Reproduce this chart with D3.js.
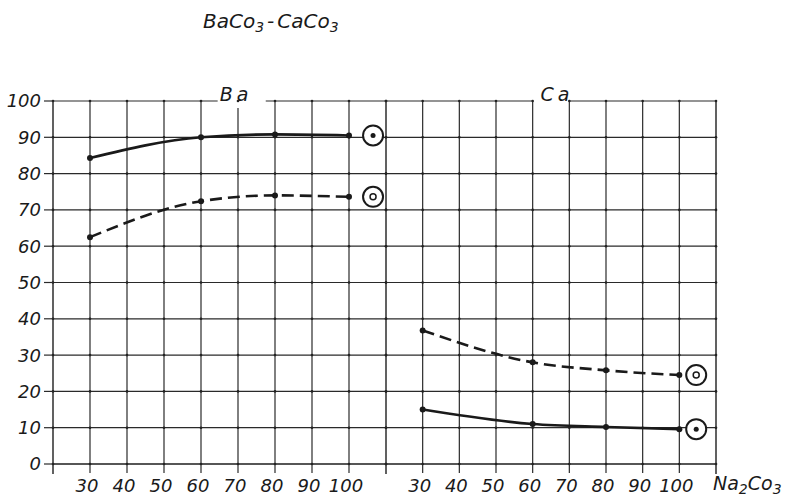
<!DOCTYPE html>
<html>
<head>
<meta charset="utf-8">
<script src="https://cdn.jsdelivr.net/npm/d3@7"></script>
<style>
    body { margin: 0; background: #fff; }
    svg { display: block; }
    text { font-family: "DejaVu Sans", sans-serif; font-style: italic; fill: #1a1a1a; }
    .grid { stroke: #2a2a2a; stroke-width: 1.2; fill: none; }
    .frame { stroke: #1e1e1e; stroke-width: 1.4; fill: none; }
    .curve { stroke: #1a1a1a; stroke-width: 2.6; fill: none; }
    .dashed { stroke-dasharray: 12 6; }
    .tick_label { font-size: 18px; }
</style>
</head>
<body>
<svg id="graph" width="786" height="500"></svg>
<script>
// values
let xTicks = [30, 40, 50, 60, 70, 80, 90, 100];
let yTicks = [0, 10, 20, 30, 40, 50, 60, 70, 80, 90, 100];
let naValues = [30, 60, 80, 100];
let baSolid = [84.3, 90.0, 90.8, 90.5];
let baDashed = [62.5, 72.4, 74.0, 73.6];
let caDashed = [36.8, 28.0, 25.8, 24.5];
let caSolid = [15.0, 11.0, 10.2, 9.6];

let svg = d3.select("#graph");

let yScale = d3.scaleLinear()
    .domain([0, 100])
    .range([464, 101]);

let panels = [
    {name: "Ba", range: [53, 386], gap: [64.5, 77.5], cutLine: 70, labelX: 236, symX: 106.5,
        series: [{values: baSolid, dashed: false}, {values: baDashed, dashed: true}]},
    {name: "Ca", range: [386, 716], gap: [60, 70], cutLine: null, labelX: 557, symX: 104.6,
        series: [{values: caDashed, dashed: true}, {values: caSolid, dashed: false}]}
];

function drawPanel(p, i) {
    let xScale = d3.scaleLinear()
        .domain([20, 110])
        .range(p.range);
    let g = svg.append("g");
    let y0 = yScale(0), yTop = yScale(100);

    // horizontal grid (top one has a gap for the label)
    g.selectAll(".grid_h")
        .data(yTicks.filter(d => d < 100))
        .enter()
        .append("line")
        .attr("class", d => d === 0 ? "frame" : "grid")
        .attr("x1", xScale(20)).attr("x2", xScale(110))
        .attr("y1", d => yScale(d)).attr("y2", d => yScale(d));

    g.append("line").attr("class", "grid")
        .attr("x1", xScale(20)).attr("x2", xScale(p.gap[0]))
        .attr("y1", yTop).attr("y2", yTop);
    g.append("line").attr("class", "grid")
        .attr("x1", xScale(p.gap[1])).attr("x2", xScale(110))
        .attr("y1", yTop).attr("y2", yTop);

    // vertical grid, running a bit below zero as ticks
    g.selectAll(".grid_v")
        .data(xTicks)
        .enter()
        .append("line")
        .attr("class", "grid")
        .attr("x1", d => xScale(d)).attr("x2", d => xScale(d))
        .attr("y1", d => d === p.cutLine ? yTop + 7 : yTop)
        .attr("y2", y0 + 9);

    g.selectAll(".edge")
        .data(i === 0 ? [20, 110] : [110])
        .enter()
        .append("line")
        .attr("class", "frame")
        .attr("x1", d => xScale(d)).attr("x2", d => xScale(d))
        .attr("y1", yTop).attr("y2", y0 + 10);

    // little dots where the paper lines cross
    let crossings = [];
    for (let gx of [20].concat(xTicks, [110]))
        for (let gy of yTicks) crossings.push([gx, gy]);
    g.selectAll(".cross")
        .data(crossings)
        .enter()
        .append("circle")
        .attr("cx", d => xScale(d[0]))
        .attr("cy", d => yScale(d[1]))
        .attr("r", 1.3)
        .attr("fill", "#222");

    g.selectAll(".tick_value_x")
        .data(xTicks)
        .enter()
        .append("text")
        .attr("class", "tick_label")
        .attr("x", d => xScale(d) - 3)
        .attr("y", 492)
        .attr("text-anchor", "middle")
        .text(d => d);

    g.append("text")
        .attr("x", p.labelX)
        .attr("y", yTop)
        .attr("text-anchor", "middle")
        .attr("font-size", 19)
        .attr("letter-spacing", 4)
        .text(p.name);

    let line = d3.line()
        .x(d => xScale(d[0]))
        .y(d => yScale(d[1]))
        .curve(d3.curveMonotoneX);

    for (let s of p.series) {
        let pts = naValues.map((n, k) => [n, s.values[k]]);
        g.append("path")
            .attr("class", s.dashed ? "curve dashed" : "curve")
            .attr("d", line(pts));

        g.selectAll(null)
            .data(pts)
            .enter()
            .append("circle")
            .attr("cx", d => xScale(d[0]))
            .attr("cy", d => yScale(d[1]))
            .attr("r", 3)
            .attr("fill", "#1a1a1a");

        let last = s.values[s.values.length - 1];
        let cx = xScale(p.symX), cy = yScale(last);
        g.append("circle")
            .attr("cx", cx).attr("cy", cy).attr("r", 10)
            .attr("fill", "#fff").attr("stroke", "#1a1a1a").attr("stroke-width", 2);
        if (s.dashed) {
            g.append("circle")
                .attr("cx", cx).attr("cy", cy).attr("r", 3)
                .attr("fill", "none").attr("stroke", "#1a1a1a").attr("stroke-width", 1.5);
        } else {
            g.append("circle")
                .attr("cx", cx).attr("cy", cy).attr("r", 2.5)
                .attr("fill", "#1a1a1a");
        }
    }

    if (i === 0) {
        g.selectAll(".tick_y")
            .data(yTicks)
            .enter()
            .append("line")
            .attr("class", "grid")
            .attr("x1", xScale(20) - 9).attr("x2", xScale(20))
            .attr("y1", d => yScale(d)).attr("y2", d => yScale(d));

        g.selectAll(".tick_value_y")
            .data(yTicks)
            .enter()
            .append("text")
            .attr("class", "tick_label")
            .attr("x", 41)
            .attr("y", d => yScale(d))
            .attr("dy", "0.36em")
            .attr("text-anchor", "end")
            .text(d => d);
    }
}

panels.forEach(drawPanel);

// title and axis name with subscripts
let title = svg.append("text")
    .attr("x", 203).attr("y", 28)
    .attr("font-size", 20);
title.append("tspan").text("BaCo");
title.append("tspan").attr("font-size", 14).attr("dy", 4).text("3");
title.append("tspan").attr("dy", -4).attr("dx", 3).text("-");
title.append("tspan").attr("dx", 3).text("CaCo");
title.append("tspan").attr("font-size", 14).attr("dy", 4).text("3");

let na = svg.append("text")
    .attr("x", 713).attr("y", 490)
    .attr("font-size", 19);
na.append("tspan").text("Na");
na.append("tspan").attr("font-size", 14).attr("dy", 4).text("2");
na.append("tspan").attr("dy", -4).text("Co");
na.append("tspan").attr("font-size", 14).attr("dy", 4).text("3");
</script>
</body>
</html>
